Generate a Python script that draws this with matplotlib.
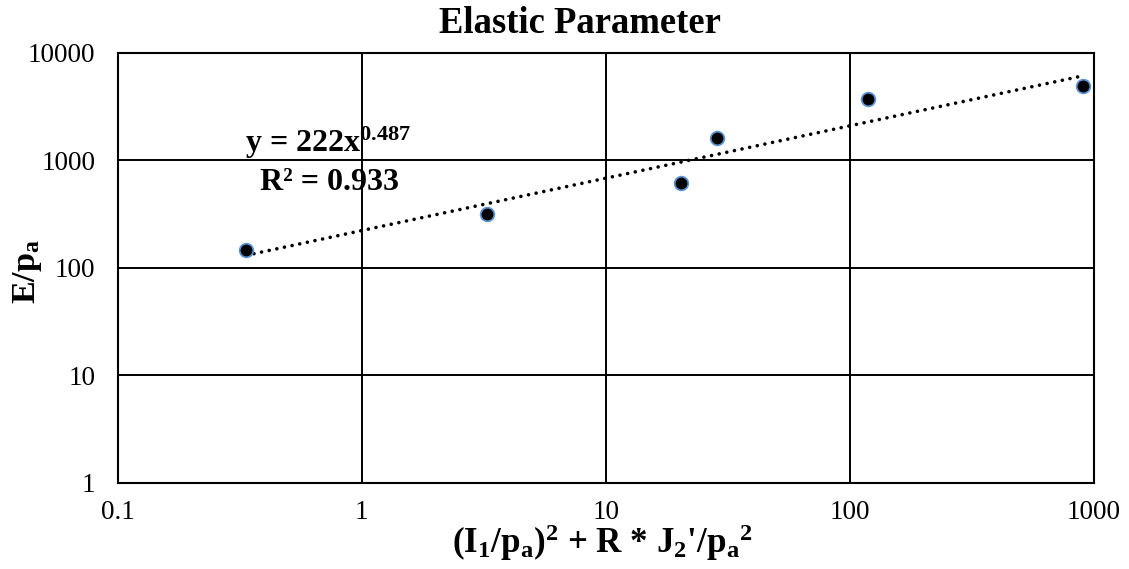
import numpy as np
import matplotlib
matplotlib.use("Agg")
import matplotlib.pyplot as plt

# data
x_vals = [0.337, 3.25, 20.4, 28.6, 119.0, 900.0]
y_vals = [145.0, 317.0, 615.0, 1620.0, 3690.0, 4870.0]
fit_coef = 222.0
fit_exp = 0.487
fit_r2 = 0.933

x_ticks = [0.1, 1, 10, 100, 1000]
x_tick_labels = ["0.1", "1", "10", "100", "1000"]
y_ticks = [1, 10, 100, 1000, 10000]
y_tick_labels = ["1", "10", "100", "1000", "10000"]

plt.rcParams["font.family"] = ["Liberation Serif", "DejaVu Serif"]
plt.rcParams["mathtext.fontset"] = "custom"
plt.rcParams["mathtext.rm"] = "Liberation Serif:bold"
plt.rcParams["mathtext.it"] = "Liberation Serif:bold"
plt.rcParams["mathtext.bf"] = "Liberation Serif:bold"
plt.rcParams["mathtext.default"] = "bf"

W, H = 1129, 569
fig = plt.figure(figsize=(W / 100, H / 100), dpi=100)
ax = fig.add_axes([117.5 / W, 1 - 483 / H, 976.5 / W, 430.3 / H])

ax.set_xscale("log")
ax.set_yscale("log")
ax.set_xlim(0.1, 1000)
ax.set_ylim(1, 10000)

# trend line y = a x^b over the data range
xf = np.logspace(np.log10(min(x_vals)), np.log10(max(x_vals)), 200)
ax.plot(xf, fit_coef * xf ** fit_exp, color="black", lw=2.6,
        linestyle=(0, (0.01, 2.15)), dash_capstyle="round", zorder=3)

ax.plot(x_vals, y_vals, "o", ms=9.8, mfc="black", mec="#5b93d3", mew=1.3,
        zorder=4)

ax.set_xticks(x_ticks)
ax.set_xticklabels(x_tick_labels)
ax.set_yticks(y_ticks)
ax.set_yticklabels(y_tick_labels)
ax.minorticks_off()
ax.tick_params(length=0, labelsize=19.5)
ax.tick_params(axis="y", pad=16)
ax.tick_params(axis="x", pad=12)

ax.grid(True, which="major", color="black", lw=1.4)
for s in ax.spines.values():
    s.set_linewidth(1.5)
    s.set_color("black")

fig.text(579.5 / W, 1 - 33 / H, "Elastic Parameter", fontsize=26.4,
         fontweight="bold", ha="center", va="baseline")
fig.text(602 / W, 1 - 553 / H,
         "(I$_1$/p$_a$)$^2$ + R * J$_2$'/p$_a{}^2$",
         fontsize=25.2, fontweight="bold", ha="center", va="baseline")
fig.text(28 / W, 1 - 272 / H, "E/p$_a$", fontsize=24.5, fontweight="bold",
         rotation=90, ha="center", va="center")

ax.text((328 - 117.5) / 976.5, (483 - 152) / 430.3,
        "y = %dx$^{%.3f}$" % (fit_coef, fit_exp),
        transform=ax.transAxes, ha="center", va="baseline", fontsize=23,
        fontweight="bold")
ax.text((329.5 - 117.5) / 976.5, (483 - 190) / 430.3,
        "R² = %.3f" % fit_r2, transform=ax.transAxes,
        ha="center", va="baseline", fontsize=23, fontweight="bold")

fig.savefig("out.png", dpi=100)
